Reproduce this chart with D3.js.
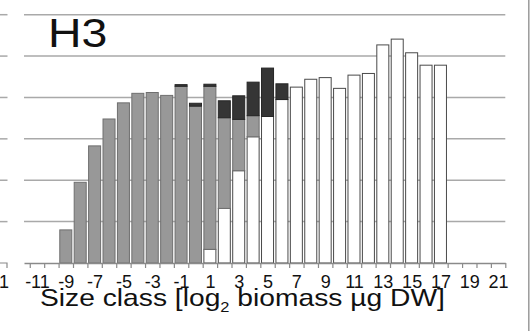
<!DOCTYPE html>
<html>
<head>
<meta charset="utf-8">
<script src="https://cdn.jsdelivr.net/npm/d3@7"></script>
<style>
  html, body { margin: 0; padding: 0; background: #fff; }
  svg { display: block; }
  text { font-family: "Liberation Sans", Arial, Helvetica, sans-serif; }
</style>
</head>
<body>
<svg id="chart" width="530" height="331"></svg>
<script>
// Size classes (log2 biomass, µg DW) and the three stacked components per class
const sizeClasses = [-9, -8, -7, -6, -5, -4, -3, -2, -1, 0, 1, 2, 3, 4, 5, 6, 7, 8, 9, 10, 11, 12, 13, 14, 15, 16, 17];
const whiteValues = [0, 0, 0, 0, 0, 0, 0, 0, 0, 0, 0.33, 1.32, 2.23, 3.05, 3.54, 3.95, 4.25, 4.44, 4.48, 4.22, 4.54, 4.58, 5.27, 5.41, 5.08, 4.78, 4.78];
const grayValues  = [0.80, 1.95, 2.83, 3.48, 3.87, 4.10, 4.12, 4.05, 4.27, 3.79, 3.94, 2.19, 1.24, 0.51, 0, 0, 0, 0, 0, 0, 0, 0, 0, 0, 0, 0, 0];
const darkValues  = [0, 0, 0, 0, 0, 0, 0, 0, 0.04, 0.07, 0.05, 0.41, 0.57, 0.81, 1.17, 0.38, 0, 0, 0, 0, 0, 0, 0, 0, 0, 0, 0];
const gridValues  = [1, 2, 3, 4, 5, 6];
const labelClasses = [-11, -9, -7, -5, -3, -1, 1, 3, 5, 7, 9, 11, 13, 15, 17, 19, 21];
const panelTitle = "H3";

const svg = d3.select("#chart");

const x = d3.scaleLinear().domain([-11.9, 21.5]).range([24, 505.3]);
const y = d3.scaleLinear().domain([0, 6]).range([263, 14.7]);

// Horizontal gridlines (behind the bars)
svg.append("g").selectAll("line")
  .data(gridValues).join("line")
  .attr("x1", x.range()[0]).attr("x2", x.range()[1])
  .attr("y1", d => y(d)).attr("y2", d => y(d))
  .attr("stroke", "#a9a9a9").attr("stroke-width", 1.5);

// Right-hand end of the neighbouring panel, visible at the left edge
const neighbour = svg.append("g");
neighbour.selectAll("line.stub")
  .data(gridValues).join("line")
  .attr("class", "stub")
  .attr("x1", 0).attr("x2", 7.5)
  .attr("y1", d => y(d)).attr("y2", d => y(d))
  .attr("stroke", "#a9a9a9").attr("stroke-width", 1.5);
neighbour.append("path")
  .attr("d", `M0,${y(0)}H7V${y(0) + 5}`)
  .attr("fill", "none").attr("stroke", "#8a8a8a").attr("stroke-width", 1.2);
neighbour.append("text")
  .attr("x", -1).attr("y", 288)
  .attr("text-anchor", "middle")
  .attr("font-size", 18).attr("fill", "#111")
  .text("21");

// Stacked bars: white at the bottom, gray above, dark on top
const rows = sizeClasses.map((c, i) => ({ c, white: whiteValues[i], gray: grayValues[i], dark: darkValues[i] }));
const stack = d3.stack().keys(["white", "gray", "dark"]);
const series = stack(rows);
const fills = { white: "#ffffff", gray: "#989898", dark: "#353535" };
const strokes = { white: "#4a4a4a", gray: "#6f6f6f", dark: "#262626" };

svg.append("g").selectAll("g")
  .data(series).join("g")
  .attr("fill", s => fills[s.key])
  .attr("stroke", s => strokes[s.key])
  .attr("stroke-width", 1)
  .selectAll("rect")
  .data(s => s.filter(d => d[1] - d[0] > 0))
  .join("rect")
  .attr("x", d => x(d.data.c - 0.5) + 1.2)
  .attr("width", d => x(d.data.c + 0.5) - x(d.data.c - 0.5) - 2.4)
  .attr("y", d => y(d[1]))
  .attr("height", d => y(d[0]) - y(d[1]));

// X axis: tick marks on class boundaries
const edgeTicks = d3.range(-11.5, 21.6, 1);
const axisG = svg.append("g")
  .attr("transform", `translate(0,${y(0)})`)
  .call(d3.axisBottom(x).tickValues(edgeTicks).tickSize(5).tickSizeOuter(0).tickFormat(""));
axisG.select(".domain").attr("stroke", "#8a8a8a").attr("stroke-width", 1.5);
axisG.selectAll(".tick line").attr("stroke", "#8a8a8a").attr("stroke-width", 1.2);

// Class labels on odd classes
const labelG = svg.append("g")
  .attr("transform", `translate(0,${y(0)})`)
  .call(d3.axisBottom(x).tickValues(labelClasses).tickSize(0).tickPadding(0)
    .tickFormat(d => d < 0 ? "-" + Math.abs(d) : String(d)));
labelG.select(".domain").remove();
labelG.attr("font-family", null).attr("font-size", null);
labelG.selectAll(".tick text")
  .attr("font-size", 18)
  .attr("fill", "#111")
  .attr("dy", null)
  .attr("y", 25);

// Axis title with subscript
const title = svg.append("text")
  .attr("font-size", 24)
  .attr("fill", "#111");
title.append("tspan").text("Size class [log");
title.append("tspan").attr("font-size", 14).attr("dy", 6).text("2");
title.append("tspan").attr("dy", -6).text(" biomass µg DW]");
const titleWidth = title.node().getComputedTextLength();
const targetWidth = 405;
title.attr("transform", `translate(40,306) scale(${targetWidth / titleWidth},1)`);

// Panel label
svg.append("text")
  .attr("transform", "translate(48,47) scale(1.16,1)")
  .attr("font-size", 40)
  .attr("fill", "#111")
  .text(panelTitle);

// Panel divider on the right edge
svg.append("line")
  .attr("x1", 528.8).attr("x2", 528.8)
  .attr("y1", 0).attr("y2", 331)
  .attr("stroke", "#9a9a9a").attr("stroke-width", 1.5);
</script>
</body>
</html>
